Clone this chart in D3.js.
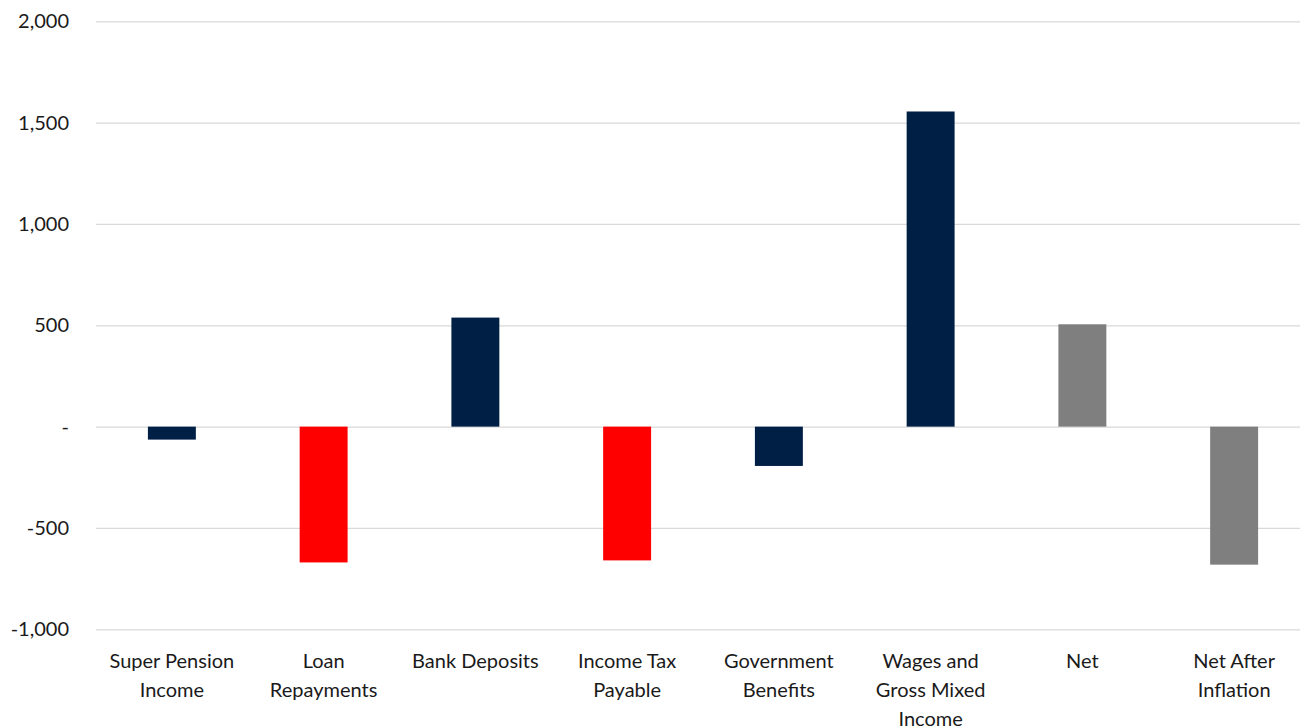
<!DOCTYPE html>
<html>
<head>
<meta charset="utf-8">
<script src="https://cdn.jsdelivr.net/npm/d3@7"></script>
<style>
  html, body { margin: 0; padding: 0; background: #ffffff; }
  svg { display: block; }
  text { font-family: Lato, "Liberation Sans", sans-serif; fill: #1a1a1a; }
</style>
</head>
<body>
<svg id="chart" width="1300" height="726"></svg>
<script>
const categories = ["Super Pension Income", "Loan Repayments", "Bank Deposits", "Income Tax Payable",
  "Government Benefits", "Wages and Gross Mixed Income", "Net", "Net After Inflation"];
const labelLines = [["Super Pension", "Income"], ["Loan", "Repayments"], ["Bank Deposits"], ["Income Tax", "Payable"],
  ["Government", "Benefits"], ["Wages and", "Gross Mixed", "Income"], ["Net"], ["Net After", "Inflation"]];
const values = [-64, -670, 538, -660, -194, 1555, 505, -681];
const colorKeys = ["navy", "red", "navy", "red", "navy", "navy", "grey", "grey"];
const yTicks = [-1000, -500, 0, 500, 1000, 1500, 2000];

const palette = { navy: "#001f45", red: "#ff0000", grey: "#7f7f7f" };

const svg = d3.select("#chart");
const plotLeft = 96, plotRight = 1310, plotTop = 21.3, plotBottom = 629.3;

const x = d3.scaleBand().domain(categories).range([plotLeft, plotRight]).paddingInner(0.684).paddingOuter(0.342);
const y = d3.scaleLinear().domain([-1000, 2000]).range([plotBottom, plotTop]);

// gridlines
const yAxis = d3.axisLeft(y).tickValues(yTicks).tickSize(-(plotRight - plotLeft)).tickPadding(27)
  .tickFormat(d => d === 0 ? "-" : d3.format(",")(d).replace("\u2212", "-"));
const gy = svg.append("g").attr("transform", `translate(${plotLeft},0)`).call(yAxis);
gy.select(".domain").remove();
gy.selectAll(".tick line").attr("stroke", "#d9d9d9").attr("stroke-width", 1.3);
gy.selectAll(".tick text").attr("font-size", 20).attr("fill", "#1a1a1a")
  .style("font-family", "Lato, 'Liberation Sans', sans-serif");

// bars
svg.append("g").selectAll("rect").data(values).join("rect")
  .attr("x", (d, i) => x(categories[i]))
  .attr("width", x.bandwidth())
  .attr("y", d => y(Math.max(0, d)))
  .attr("height", d => Math.abs(y(d) - y(0)))
  .attr("fill", (d, i) => palette[colorKeys[i]]);

// category labels
const gl = svg.append("g");
categories.forEach((c, i) => {
  const t = gl.append("text")
    .attr("x", x(c) + x.bandwidth() / 2)
    .attr("y", 668)
    .attr("text-anchor", "middle")
    .attr("font-size", 20);
  labelLines[i].forEach((ln, j) => {
    t.append("tspan").attr("x", x(c) + x.bandwidth() / 2).attr("dy", j === 0 ? 0 : 29).text(ln);
  });
});
</script>
</body>
</html>
